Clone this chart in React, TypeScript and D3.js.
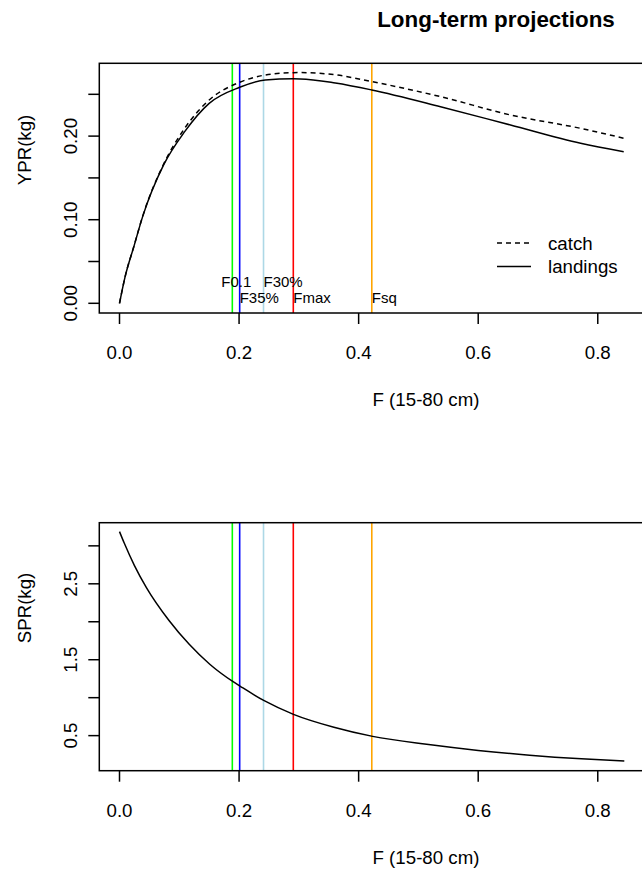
import React, { useRef, useEffect } from "react";
import * as d3 from "d3";

const fontFamily = "'Liberation Sans', Arial, Helvetica, sans-serif";

// YPR curves
const fYpr = [0, 0.0094, 0.024, 0.0387, 0.0738, 0.109, 0.15, 0.201, 0.2438, 0.2907, 0.3024, 0.361, 0.422, 0.537, 0.654, 0.7713, 0.8434];
const landingsYpr = [0, 0.0319, 0.0678, 0.1037, 0.1655, 0.2053, 0.2392, 0.2584, 0.2671, 0.2685, 0.2684, 0.2635, 0.2552, 0.2352, 0.2133, 0.1914, 0.1814];
const catchYpr = [0, 0.0319, 0.068, 0.104, 0.1665, 0.2093, 0.2432, 0.2644, 0.2731, 0.2759, 0.276, 0.2733, 0.2652, 0.2472, 0.2253, 0.2093, 0.1975];

// SPR curve
const fSpr = [0, 0.0077, 0.025, 0.045, 0.0825, 0.117, 0.151, 0.19, 0.202, 0.242, 0.291, 0.3586, 0.4235, 0.5137, 0.6, 0.686, 0.7726, 0.8444];
const sprVals = [3.187, 3.04, 2.74, 2.45, 2.02, 1.7, 1.44, 1.21, 1.15, 0.96, 0.78, 0.61, 0.49, 0.385, 0.305, 0.243, 0.195, 0.165];

// reference points
const refNames = ["F0.1", "F35%", "F30%", "Fmax", "Fsq"];
const refF = [0.1887, 0.201, 0.2409, 0.2907, 0.422];
const refColors = ["#00FF00", "#0000FF", "#ADD8E6", "#FF0000", "#FFA500"];

const xTicks = [0, 0.2, 0.4, 0.6, 0.8];
const yprTicks = [0, 0.05, 0.1, 0.15, 0.2, 0.25];
const sprTicks = [0.5, 1, 1.5, 2, 2.5, 3];

export default function App() {
  const ref = useRef<SVGSVGElement>(null);
  const width = 642;
  const height = 870;

  useEffect(() => {
    const svg = d3.select(ref.current);
    svg.selectAll("*").remove();
    svg.style("font-family", fontFamily);

    const left = 99.3;
    const right = 645;
    const x = d3.scaleLinear().domain([-0.0338, 0.879]).range([left, right]);

    // title
    svg.append("text")
      .attr("x", 496)
      .attr("y", 27)
      .attr("text-anchor", "middle")
      .attr("font-size", 22.4)
      .attr("font-weight", "bold")
      .attr("fill", "#000")
      .text("Long-term projections");

    function panel(top: number, bottom: number, yDomain: [number, number], ticks: number[], fmt: (v: number) => string, ylab: string, ylabY: number) {
      const y = d3.scaleLinear().domain(yDomain).range([bottom, top]);
      const g = svg.append("g");
      const clipId = "clip" + Math.round(top);
      g.append("clipPath").attr("id", clipId)
        .append("rect").attr("x", left).attr("y", top).attr("width", right - left).attr("height", bottom - top);

      // x axis
      g.selectAll("line.xt").data(xTicks).join("line")
        .attr("x1", d => x(d)).attr("x2", d => x(d))
        .attr("y1", bottom).attr("y2", bottom + 11)
        .attr("stroke", "#000").attr("stroke-width", 1.5);
      g.selectAll("text.xl").data(xTicks).join("text")
        .attr("x", d => x(d)).attr("y", bottom + 46)
        .attr("text-anchor", "middle")
        .attr("font-size", 18.7)
        .text(d => d.toFixed(1));
      g.append("text")
        .attr("x", 426).attr("y", bottom + 93)
        .attr("text-anchor", "middle")
        .attr("font-size", 18.7)
        .text("F (15-80 cm)");

      // y axis
      g.selectAll("line.yt").data(ticks).join("line")
        .attr("x1", left - 11).attr("x2", left)
        .attr("y1", d => y(d)).attr("y2", d => y(d))
        .attr("stroke", "#000").attr("stroke-width", 1.5);
      g.selectAll("text.yl").data(ticks.filter((d, i) => i % 2 === 0)).join("text")
        .attr("transform", d => `translate(${left - 22},${y(d)}) rotate(-90)`)
        .attr("text-anchor", "middle")
        .attr("font-size", 18.7)
        .text(fmt);
      g.append("text")
        .attr("transform", `translate(31,${ylabY}) rotate(-90)`)
        .attr("text-anchor", "middle")
        .attr("font-size", 18.7)
        .text(ylab);

      // reference lines
      g.selectAll("line.ref").data(refF).join("line")
        .attr("x1", d => x(d)).attr("x2", d => x(d))
        .attr("y1", top).attr("y2", bottom)
        .attr("stroke", (d, i) => refColors[i])
        .attr("stroke-width", 1.6);

      return { g, y, clipId };
    }

    // top panel: YPR
    const p1 = panel(63.3, 313, [-0.0116, 0.2871], yprTicks, d => d.toFixed(2), "YPR(kg)", 150);
    const line1 = d3.line<number>()
      .x((d, i) => x(fYpr[i]))
      .y(d => p1.y(d))
      .curve(d3.curveMonotoneX);
    p1.g.append("path")
      .datum(catchYpr)
      .attr("d", line1)
      .attr("fill", "none")
      .attr("stroke", "#000")
      .attr("stroke-width", 1.5)
      .attr("stroke-dasharray", "5,4")
      .attr("clip-path", `url(#${p1.clipId})`);
    p1.g.append("path")
      .datum(landingsYpr)
      .attr("d", line1)
      .attr("fill", "none")
      .attr("stroke", "#000")
      .attr("stroke-width", 1.5)
      .attr("clip-path", `url(#${p1.clipId})`);

    // ref labels
    const rows = [0, 1, 0, 1, 1];
    const anchors = ["middle", "start", "start", "start", "start"];
    p1.g.selectAll("text.refl").data(refNames).join("text")
      .attr("x", (d, i) => x(refF[i]) + (anchors[i] === "middle" ? 4 : 0))
      .attr("y", (d, i) => p1.y(0) - (rows[i] === 0 ? 16.6 : 0))
      .attr("text-anchor", (d, i) => anchors[i])
      .attr("font-size", 15)
      .text(d => d);

    // legend
    const legend = [{ name: "catch", dash: "5,4", y: 243 }, { name: "landings", dash: null, y: 266.5 }];
    legend.forEach(l => {
      p1.g.append("line")
        .attr("x1", 497).attr("x2", 531)
        .attr("y1", l.y).attr("y2", l.y)
        .attr("stroke", "#000").attr("stroke-width", 1.5)
        .attr("stroke-dasharray", l.dash);
      p1.g.append("text")
        .attr("x", 548).attr("y", l.y + 6.5)
        .attr("font-size", 18.7)
        .text(l.name);
    });

    p1.g.append("rect")
      .attr("x", left).attr("y", 63.3)
      .attr("width", right - left).attr("height", 313 - 63.3)
      .attr("fill", "none").attr("stroke", "#000").attr("stroke-width", 1.5);

    // bottom panel: SPR
    const p2 = panel(522.7, 770.7, [0.038, 3.305], sprTicks, d => d.toFixed(1), "SPR(kg)", 608);
    const line2 = d3.line<number>()
      .x((d, i) => x(fSpr[i]))
      .y(d => p2.y(d))
      .curve(d3.curveMonotoneX);
    p2.g.append("path")
      .datum(sprVals)
      .attr("d", line2)
      .attr("fill", "none")
      .attr("stroke", "#000")
      .attr("stroke-width", 1.5)
      .attr("clip-path", `url(#${p2.clipId})`);
    p2.g.append("rect")
      .attr("x", left).attr("y", 522.7)
      .attr("width", right - left).attr("height", 770.7 - 522.7)
      .attr("fill", "none").attr("stroke", "#000").attr("stroke-width", 1.5);
  }, []);

  return (
    <svg
      ref={ref}
      width={width}
      height={height}
      style={{ position: "absolute", left: 0, top: 0, background: "#fff" }}
    ></svg>
  );
}
